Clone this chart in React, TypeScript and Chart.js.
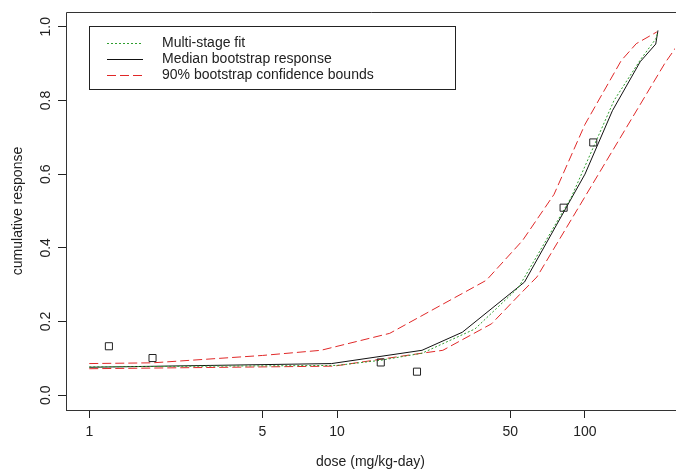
import React, { useEffect, useRef } from "react";
import { Chart, registerables } from "chart.js";

Chart.register(...registerables);

// Observed data (open squares)
const obsDose = [1.2, 1.8, 15, 21, 82, 108];
const obsResp = [0.133, 0.101, 0.089, 0.064, 0.509, 0.686];

// Multi-stage fit (green dotted)
const fitDose = [1, 10, 15, 22, 36, 54, 88, 131, 168, 193, 197];
const fitResp = [0.077, 0.081, 0.095, 0.114, 0.18, 0.293, 0.537, 0.8, 0.912, 0.967, 0.985];

// Median bootstrap response (black solid)
const medDose = [1, 9.5, 22, 32, 57, 100, 129, 167, 193, 197];
const medResp = [0.076, 0.086, 0.122, 0.171, 0.307, 0.6, 0.772, 0.905, 0.953, 0.99];

// 90% bootstrap confidence bounds (red dashed)
const upperDose = [1, 1.8, 5, 8.6, 16.3, 40, 56, 75, 100, 140, 161, 195];
const upperResp = [0.086, 0.088, 0.108, 0.122, 0.168, 0.312, 0.42, 0.545, 0.735, 0.908, 0.954, 0.986];
const lowerDose = [1, 9.7, 21.4, 26.7, 42, 55, 64, 211, 260];
const lowerResp = [0.072, 0.079, 0.113, 0.122, 0.194, 0.276, 0.321, 0.903, 0.99];

const xTicks = [1, 5, 10, 50, 100];
const yTicks = [0, 0.2, 0.4, 0.6, 0.8, 1.0];
const legendLabels = ["Multi-stage fit", "Median bootstrap response", "90% bootstrap confidence bounds"];
const xTitle = "dose (mg/kg-day)";
const yTitle = "cumulative response";

const X_MIN = 0.8056;
const X_MAX = 230.8;
const Y_MIN = -0.04;
const Y_MAX = 1.04;

const FONT = '"Liberation Sans", Arial, Helvetica, sans-serif';
const FS = 14;
const GREEN = "#2f9e2f";
const RED = "#e02828";
const INK = "#222";

export default function App() {
  const ref = useRef<HTMLCanvasElement>(null);

  useEffect(() => {
    if (!ref.current) return;
    const pts = (xs: number[], ys: number[]) => xs.map((x, i) => ({ x, y: ys[i] }));

    const overlay = {
      id: "overlay",
      afterDraw(chart: any) {
        const ctx = chart.ctx as CanvasRenderingContext2D;
        const { left, right, top, bottom } = chart.chartArea;
        const ys = chart.scales.y;
        ctx.save();
        // box
        ctx.strokeStyle = "#333";
        ctx.lineWidth = 1;
        ctx.beginPath();
        ctx.moveTo(left + 0.5, bottom + 0.5);
        ctx.lineTo(left + 0.5, top + 0.5);
        ctx.lineTo(right + 1, top + 0.5);
        ctx.moveTo(left, bottom + 0.5);
        ctx.lineTo(right + 1, bottom + 0.5);
        ctx.stroke();

        // y tick labels (rotated, R style)
        ctx.fillStyle = INK;
        ctx.font = `${FS}px ${FONT}`;
        ctx.textAlign = "center";
        ctx.textBaseline = "middle";
        yTicks.forEach((v) => {
          const py = ys.getPixelForValue(v);
          ctx.save();
          ctx.translate(46, py);
          ctx.rotate(-Math.PI / 2);
          ctx.fillText(v.toFixed(1), 0, 0);
          ctx.restore();
        });

        // axis titles
        ctx.save();
        ctx.translate(18, (top + bottom) / 2);
        ctx.rotate(-Math.PI / 2);
        ctx.fillText(yTitle, 0, 0);
        ctx.restore();
        ctx.fillText(xTitle, (left + right) / 2, 462);

        // legend
        const lx = 89, ly = 26, lw = 366, lh = 63;
        ctx.fillStyle = "#fff";
        ctx.fillRect(lx, ly, lw, lh);
        ctx.strokeStyle = "#222";
        ctx.strokeRect(lx + 0.5, ly + 0.5, lw, lh);
        const rows = [43, 59, 75];
        const dsIdx = [1, 2, 3];
        rows.forEach((ry, i) => {
          const ds = chart.data.datasets[dsIdx[i]];
          ctx.save();
          ctx.strokeStyle = ds.borderColor;
          ctx.lineWidth = ds.borderWidth;
          ctx.setLineDash(ds.borderDash || []);
          ctx.beginPath();
          ctx.moveTo(107, ry + 0.5);
          ctx.lineTo(143, ry + 0.5);
          ctx.stroke();
          ctx.restore();
          ctx.fillStyle = INK;
          ctx.textAlign = "left";
          ctx.textBaseline = "middle";
          ctx.fillText(legendLabels[i], 162, ry);
        });
        ctx.restore();
      },
    };

    const chart = new Chart(ref.current, {
      type: "line",
      data: {
        datasets: [
          {
            label: "observed",
            data: pts(obsDose, obsResp),
            showLine: false,
            pointStyle: "rect",
            pointRadius: 5,
            pointBorderWidth: 1,
            pointBorderColor: "#222",
            pointBackgroundColor: "rgba(0,0,0,0)",
            borderColor: "#222",
          },
          {
            label: legendLabels[0],
            data: pts(fitDose, fitResp),
            borderColor: GREEN,
            borderDash: [2, 2],
            borderWidth: 1,
            pointRadius: 0,
            tension: 0,
          },
          {
            label: legendLabels[1],
            data: pts(medDose, medResp),
            borderColor: "#111",
            borderWidth: 1,
            pointRadius: 0,
            tension: 0,
          },
          {
            label: legendLabels[2],
            data: pts(upperDose, upperResp),
            borderColor: RED,
            borderDash: [9, 4],
            borderWidth: 1,
            pointRadius: 0,
            tension: 0,
          },
          {
            label: "lower",
            data: pts(lowerDose, lowerResp),
            borderColor: RED,
            borderDash: [9, 4],
            borderWidth: 1,
            pointRadius: 0,
            tension: 0,
          },
        ],
      } as any,
      options: {
        responsive: false,
        animation: false,
        events: [],
        layout: { padding: { top: 12, right: 0, left: 0, bottom: 0 } },
        plugins: { legend: { display: false }, tooltip: { enabled: false } },
        scales: {
          x: {
            type: "logarithmic",
            min: X_MIN,
            max: X_MAX,
            afterBuildTicks: (s: any) => {
              s.ticks = xTicks.map((v) => ({ value: v }));
            },
            afterFit: (s: any) => {
              s.height = 62;
            },
            ticks: {
              callback: (v: any) => String(v),
              autoSkip: false,
              maxRotation: 0,
              minRotation: 0,
              font: { family: FONT, size: FS },
              color: INK,
              padding: 6,
            },
            grid: { drawOnChartArea: false, drawTicks: true, tickLength: 8, color: INK },
            border: { display: false },
          },
          y: {
            type: "linear",
            min: Y_MIN,
            max: Y_MAX,
            afterBuildTicks: (s: any) => {
              s.ticks = yTicks.map((v) => ({ value: v }));
            },
            afterFit: (s: any) => {
              s.width = 66;
            },
            ticks: { color: "rgba(0,0,0,0)", font: { family: FONT, size: FS } },
            grid: { drawOnChartArea: false, drawTicks: true, tickLength: 8, color: INK },
            border: { display: false },
          },
        },
      } as any,
      plugins: [overlay],
    });
    return () => chart.destroy();
  }, []);

  return (
    <div style={{ position: "fixed", left: 0, top: 0, width: 681, height: 472, background: "#fff" }}>
      <canvas ref={ref} width={681} height={472} style={{ display: "block", width: 681, height: 472 }} />
    </div>
  );
}
